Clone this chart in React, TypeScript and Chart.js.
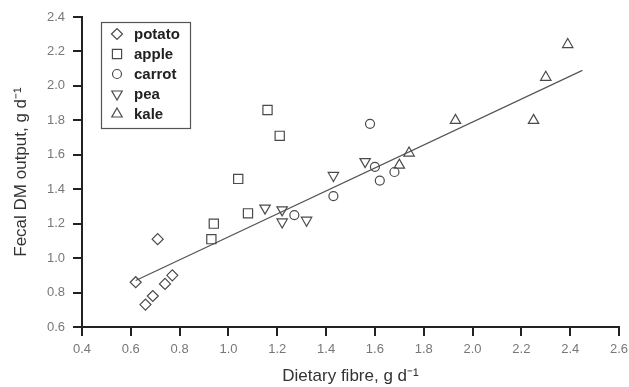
import React, { useEffect, useRef } from 'react';
import { Chart, registerables } from 'chart.js';
import { drawPoint } from 'chart.js/helpers';

Chart.register(...registerables);

const xTickValues = [0.4, 0.6, 0.8, 1.0, 1.2, 1.4, 1.6, 1.8, 2.0, 2.2, 2.4, 2.6];
const yTickValues = [0.6, 0.8, 1.0, 1.2, 1.4, 1.6, 1.8, 2.0, 2.2, 2.4];

const seriesNames = ['potato', 'apple', 'carrot', 'pea', 'kale'];

const potatoX = [0.62, 0.71, 0.66, 0.69, 0.74, 0.77];
const potatoY = [0.86, 1.11, 0.73, 0.78, 0.85, 0.90];
const appleX = [0.93, 0.94, 1.04, 1.08, 1.16, 1.21];
const appleY = [1.11, 1.20, 1.46, 1.26, 1.86, 1.71];
const carrotX = [1.27, 1.43, 1.58, 1.60, 1.62, 1.68];
const carrotY = [1.25, 1.36, 1.78, 1.53, 1.45, 1.50];
const peaX = [1.15, 1.22, 1.22, 1.32, 1.43, 1.56];
const peaY = [1.29, 1.28, 1.21, 1.22, 1.48, 1.56];
const kaleX = [1.70, 1.74, 1.93, 2.25, 2.30, 2.39];
const kaleY = [1.54, 1.61, 1.80, 1.80, 2.05, 2.24];

const fitX = [0.62, 2.45];
const fitY = [0.87, 2.09];

const FONT = "'Liberation Sans', Arial, sans-serif";
const INK = '#4a4a4a';
const AXIS = '#222222';

const zip = (xs: number[], ys: number[]) => xs.map((x, i) => ({ x, y: ys[i] }));

const markerStyles = [
  { pointStyle: 'rectRot', radius: 5.5, rotation: 0 },
  { pointStyle: 'rect', radius: 6.5, rotation: 0 },
  { pointStyle: 'circle', radius: 4.5, rotation: 0 },
  { pointStyle: 'triangle', radius: 6, rotation: 180 },
  { pointStyle: 'triangle', radius: 6, rotation: 0 },
];

const legendBoxPlugin = {
  id: 'legendBox',
  afterDraw(chart: any) {
    const { ctx, chartArea } = chart;
    const left = chartArea.left + 19;
    const top = chartArea.top + 5;
    const w = 89;
    const h = 106;
    ctx.save();
    ctx.strokeStyle = '#555555';
    ctx.lineWidth = 1.2;
    ctx.strokeRect(left + 0.5, top + 0.5, w, h);
    ctx.font = `bold 15px ${FONT}`;
    ctx.fillStyle = '#222222';
    ctx.textBaseline = 'middle';
    ctx.textAlign = 'left';
    seriesNames.forEach((name, i) => {
      const cy = top + 12 + i * 20;
      const m = markerStyles[i];
      ctx.strokeStyle = INK;
      ctx.fillStyle = 'rgba(0,0,0,0)';
      ctx.lineWidth = 1.2;
      drawPoint(ctx, { pointStyle: m.pointStyle, rotation: m.rotation, radius: m.radius, borderWidth: 1.2 } as any, left + 16, cy);
      ctx.fillStyle = '#222222';
      ctx.fillText(name, left + 33, cy + 1);
    });
    ctx.restore();
  },
};

export default function App() {
  const ref = useRef<HTMLCanvasElement>(null);
  useEffect(() => {
    document.body.style.margin = '0';
    const seriesData = [
      zip(potatoX, potatoY),
      zip(appleX, appleY),
      zip(carrotX, carrotY),
      zip(peaX, peaY),
      zip(kaleX, kaleY),
    ];
    const datasets: any[] = seriesNames.map((name, i) => ({
      type: 'scatter',
      label: name,
      data: seriesData[i],
      pointStyle: markerStyles[i].pointStyle,
      pointRadius: markerStyles[i].radius,
      rotation: markerStyles[i].rotation,
      pointRotation: markerStyles[i].rotation,
      borderColor: INK,
      backgroundColor: 'rgba(0,0,0,0)',
      pointBorderWidth: 1.2,
      borderWidth: 1.2,
      showLine: false,
    }));
    datasets.push({
      type: 'line',
      label: 'fit',
      data: zip(fitX, fitY),
      borderColor: '#555555',
      borderWidth: 1.2,
      pointRadius: 0,
      fill: false,
      tension: 0,
    });
    const chart = new Chart(ref.current!, {
      type: 'scatter',
      data: { datasets },
      options: {
        responsive: false,
        animation: false,
        layout: { padding: { left: 0, top: 17, right: 10, bottom: 0 } },
        plugins: {
          legend: { display: false },
          tooltip: { enabled: false },
        },
        scales: {
          x: {
            type: 'linear',
            min: xTickValues[0],
            max: xTickValues[xTickValues.length - 1],
            afterBuildTicks: (axis: any) => {
              axis.ticks = xTickValues.map((v) => ({ value: v }));
            },
            afterFit: (axis: any) => {
              axis.height = 60;
              axis.paddingLeft = 0;
              axis.paddingRight = 0;
            },
            ticks: {
              callback: (v: any) => Number(v).toFixed(1),
              color: '#777777',
              font: { family: FONT, size: 13 },
              padding: 6,
              maxRotation: 0,
              autoSkip: false,
            },
            grid: {
              drawOnChartArea: false,
              drawTicks: true,
              tickLength: 9,
              tickColor: AXIS,
              lineWidth: 2,
            },
            border: { display: true, color: AXIS, width: 2 },
            title: {
              display: true,
              text: 'Dietary fibre, g d\u207B\u00B9',
              color: '#333333',
              font: { family: FONT, size: 17 },
              padding: { top: 0, bottom: 0 },
            },
          },
          y: {
            type: 'linear',
            min: yTickValues[0],
            max: yTickValues[yTickValues.length - 1],
            afterBuildTicks: (axis: any) => {
              axis.ticks = yTickValues.map((v) => ({ value: v }));
            },
            afterFit: (axis: any) => {
              axis.width = 82;
            },
            ticks: {
              callback: (v: any) => Number(v).toFixed(1),
              color: '#777777',
              font: { family: FONT, size: 13 },
              padding: 8,
              autoSkip: false,
            },
            grid: {
              drawOnChartArea: false,
              drawTicks: true,
              tickLength: 9,
              tickColor: AXIS,
              lineWidth: 2,
            },
            border: { display: true, color: AXIS, width: 2 },
            title: {
              display: true,
              text: 'Fecal DM output, g d\u207B\u00B9',
              color: '#333333',
              font: { family: FONT, size: 17 },
              padding: { top: 11, bottom: 0 },
            },
          },
        },
      },
      plugins: [legendBoxPlugin],
    });
    return () => chart.destroy();
  }, []);
  return (
    <div style={{ width: 629, height: 387, background: '#ffffff' }}>
      <canvas ref={ref} width={629} height={387} />
    </div>
  );
}
